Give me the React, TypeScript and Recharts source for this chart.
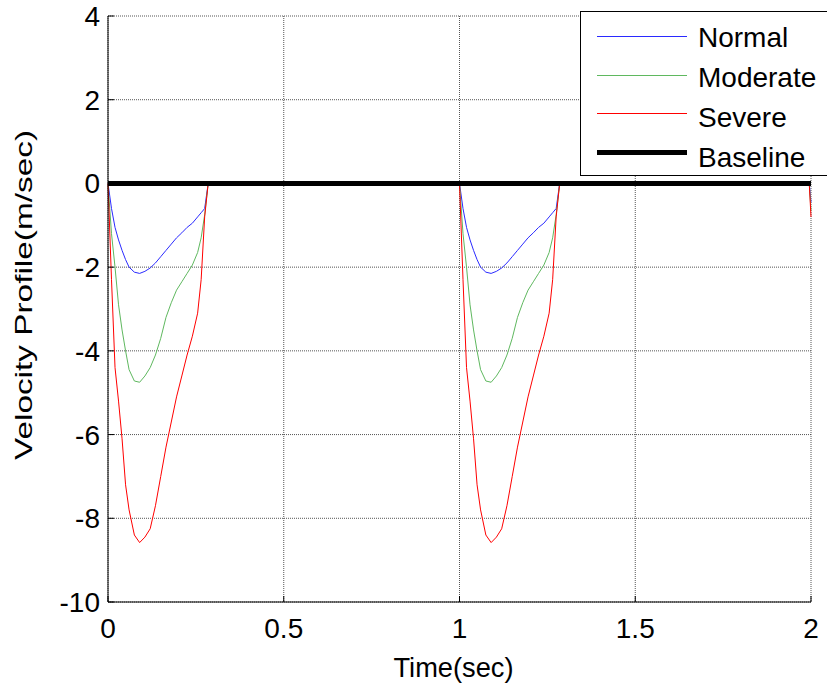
import { LineChart, Line, XAxis, YAxis, CartesianGrid, Label } from "recharts";

// one ejection pulse, sampled by eye from the figure (seconds from pulse start)
const pulseTime = [
  0, 0.01, 0.02, 0.03, 0.04, 0.05, 0.06, 0.075, 0.09, 0.105, 0.12, 0.135,
  0.15, 0.165, 0.18, 0.195, 0.21, 0.225, 0.24, 0.255, 0.265, 0.275, 0.285,
];
const normalPulse = [
  0, -0.6, -1.05, -1.35, -1.6, -1.82, -2.0, -2.12, -2.15, -2.1, -2.02, -1.9,
  -1.75, -1.6, -1.45, -1.3, -1.18, -1.05, -0.95, -0.8, -0.7, -0.6, 0,
];
const moderatePulse = [
  0, -1.2, -2.0, -2.9, -3.5, -4.0, -4.45, -4.72, -4.75, -4.6, -4.4, -4.1,
  -3.7, -3.2, -2.85, -2.55, -2.35, -2.15, -1.95, -1.65, -1.3, -0.75, 0,
];
const severePulse = [
  0, -2.3, -4.4, -5.2, -6.1, -7.2, -7.8, -8.4, -8.58, -8.45, -8.25, -7.7,
  -7.0, -6.3, -5.7, -5.1, -4.6, -4.1, -3.65, -3.1, -2.3, -0.8, 0,
];
const cycleStarts = [0, 1];

// start of the third pulse, cut off at the right edge
const tailTime = [1.995, 2.0];
const normalTail = [0, -0.45];
const moderateTail = [0, -0.65];
const severeTail = [0, -0.8];

const xTicks = [0, 0.5, 1, 1.5, 2];
const yTicks = [-10, -8, -6, -4, -2, 0, 2, 4];

const series = [
  { key: "normal", name: "Normal", color: "#2a2aff", width: 1 },
  { key: "moderate", name: "Moderate", color: "#5fb85f", width: 1 },
  { key: "severe", name: "Severe", color: "#ff0000", width: 1 },
  { key: "baseline", name: "Baseline", color: "#000000", width: 5 },
];

const data: any[] = [];
cycleStarts.forEach((c) => {
  pulseTime.forEach((t, i) => {
    data.push({
      t: c + t,
      normal: normalPulse[i],
      moderate: moderatePulse[i],
      severe: severePulse[i],
      baseline: 0,
    });
  });
});
tailTime.forEach((t, i) => {
  data.push({
    t,
    normal: normalTail[i],
    moderate: moderateTail[i],
    severe: severeTail[i],
    baseline: 0,
  });
});

const FONT = "'Liberation Sans', Arial, Helvetica, sans-serif";
const TICK = 6;

const LeftTick = ({ x, y, payload }: any) => (
  <g>
    <line x1={x + 8} x2={x + 8 + TICK} y1={y} y2={y} stroke="#000" />
    <text x={x} y={y} dy="0.355em" textAnchor="end" fontSize={28} fontFamily={FONT} fill="#000">
      {payload.value}
    </text>
  </g>
);

const BottomTick = ({ x, y, payload }: any) => (
  <g>
    <line x1={x} x2={x} y1={y - 16} y2={y - 16 - TICK} stroke="#000" />
    <text x={x} y={y} dy="0.71em" textAnchor="middle" fontSize={28} fontFamily={FONT} fill="#000">
      {payload.value}
    </text>
  </g>
);

const TopTick = ({ x, y }: any) => (
  <line x1={x} x2={x} y1={y} y2={y + TICK} stroke="#000" />
);

const RightTick = ({ x, y }: any) => (
  <line x1={x} x2={x - TICK} y1={y} y2={y} stroke="#000" />
);

const YTitle = ({ viewBox }: any) => {
  const cx = viewBox.x + viewBox.width - 76;
  const cy = 295;
  return (
    <text
      x={cx}
      y={cy}
      transform={`rotate(-90, ${cx}, ${cy})`}
      textAnchor="middle"
      fontSize={24}
      fontFamily={FONT}
      fill="#000"
      textLength={330}
      lengthAdjust="spacingAndGlyphs"
    >
      Velocity Profile(m/sec)
    </text>
  );
};

const XTitle = ({ viewBox }: any) => (
  <text
    x={viewBox.x + viewBox.width / 2 - 6}
    y={viewBox.y + 75}
    textAnchor="middle"
    fontSize={28}
    fontFamily={FONT}
    fill="#000"
    textLength={120}
    lengthAdjust="spacingAndGlyphs"
  >
    Time(sec)
  </text>
);

function LegendBox() {
  const lineTops = [24, 63, 101, 140];
  const textTops = [12, 52, 92, 132];
  return (
    <div
      style={{
        position: "absolute",
        left: 580,
        top: 11,
        width: 260,
        height: 165,
        border: "1px solid #000",
        background: "#fff",
        boxSizing: "border-box",
      }}
    >
      {series.map((s, i) => (
        <div key={s.key}>
          <div
            style={{
              position: "absolute",
              left: 16,
              width: 90,
              top: lineTops[i] - Math.floor(s.width / 2),
              height: s.width,
              background: s.color,
            }}
          />
          <div
            style={{
              position: "absolute",
              left: 117,
              top: textTops[i],
              fontSize: 28,
              lineHeight: "28px",
              fontFamily: FONT,
              color: "#000",
              whiteSpace: "nowrap",
            }}
          >
            {s.name}
          </div>
        </div>
      ))}
    </div>
  );
}

export default function App() {
  return (
    <div
      style={{
        position: "absolute",
        left: 0,
        top: 0,
        width: 827,
        height: 687,
        overflow: "hidden",
        background: "#fff",
      }}
    >
      <LineChart
        width={827}
        height={687}
        data={data}
        margin={{ top: 16, right: 16, left: 8, bottom: 25 }}
      >
        <CartesianGrid stroke="#555" strokeDasharray="1 1" />
        <XAxis
          dataKey="t"
          type="number"
          domain={[0, 2]}
          ticks={xTicks}
          interval={0}
          height={60}
          tickSize={0}
          tickMargin={16}
          tickLine={false}
          axisLine={{ stroke: "#000" }}
          tick={<BottomTick />}
        >
          <Label content={<XTitle />} />
        </XAxis>
        <XAxis
          xAxisId="top"
          orientation="top"
          dataKey="t"
          type="number"
          domain={[0, 2]}
          ticks={xTicks}
          interval={0}
          height={0}
          tickSize={0}
          tickMargin={0}
          tickLine={false}
          axisLine={{ stroke: "#000" }}
          tick={<TopTick />}
        />
        <YAxis
          type="number"
          domain={[-10, 4]}
          ticks={yTicks}
          interval={0}
          width={100}
          tickSize={0}
          tickMargin={8}
          tickLine={false}
          axisLine={{ stroke: "#000" }}
          tick={<LeftTick />}
        >
          <Label content={<YTitle />} />
        </YAxis>
        <YAxis
          yAxisId="right"
          orientation="right"
          type="number"
          domain={[-10, 4]}
          ticks={yTicks}
          interval={0}
          width={0}
          tickSize={0}
          tickMargin={0}
          tickLine={false}
          axisLine={{ stroke: "#000" }}
          tick={<RightTick />}
        />
        {series.map((s) => (
          <Line
            key={s.key}
            dataKey={s.key}
            name={s.name}
            type="linear"
            stroke={s.color}
            strokeWidth={s.width}
            dot={false}
            isAnimationActive={false}
          />
        ))}
      </LineChart>
      <LegendBox />
    </div>
  );
}
